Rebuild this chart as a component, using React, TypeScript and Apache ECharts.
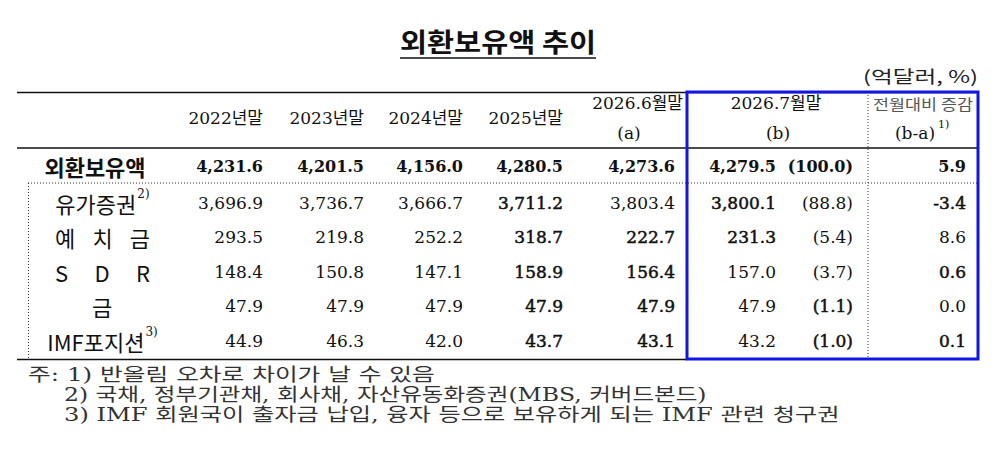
import React, { useEffect, useRef } from "react";
import * as echarts from "echarts";

// ---- data ----
const title = "외환보유액 추이";
const unitLabel = "(억달러, %)";
const yearHeaders = ["2022년말", "2023년말", "2024년말", "2025년말"];
const monthHeaders = [
  ["2026.6월말", "(a)"],
  ["2026.7월말", "(b)"],
];
const diffHeader = "전월대비 증감";
const diffSubHeader = "(b-a)";
const diffSubNote = "1)";
const rowLabels = ["외환보유액", "유가증권", "예 치 금", "S D R", "금", "IMF포지션"];
const rowNotes = ["", "2)", "", "", "", "3)"];
const end2022 = [4231.6, 3696.9, 293.5, 148.4, 47.9, 44.9];
const end2023 = [4201.5, 3736.7, 219.8, 150.8, 47.9, 46.3];
const end2024 = [4156.0, 3666.7, 252.2, 147.1, 47.9, 42.0];
const end2025 = [4280.5, 3711.2, 318.7, 158.9, 47.9, 43.7];
const endJun2026 = [4273.6, 3803.4, 222.7, 156.4, 47.9, 43.1];
const endJul2026 = [4279.5, 3800.1, 231.3, 157.0, 47.9, 43.2];
const sharePct = [100.0, 88.8, 5.4, 3.7, 1.1, 1.0];
const diffAB = [5.9, -3.4, 8.6, 0.6, 0.0, 0.1];
const notes = [
  "주: 1) 반올림 오차로 차이가 날 수 있음",
  "2) 국채, 정부기관채, 회사채, 자산유동화증권(MBS, 커버드본드)",
  "3) IMF 회원국이 출자금 납입, 융자 등으로 보유하게 되는 IMF 관련 청구권",
];

// ---- styles / layout ----
const NUM = "17px 'DejaVu Serif'";
const NUM_BOLD = "bold 16px 'DejaVu Serif'";
const HEAD = "17px 'DejaVu Serif', 'Noto Sans CJK KR'";
const LABEL = "22px 'Noto Sans CJK KR'";
const LABEL_BOLD = "bold 22px 'Noto Sans CJK KR'";
const NOTE = "18px 'DejaVu Serif', 'Noto Sans CJK KR'";
const INK = "#111";
// semi-bold cells (col index -> rows), col 6 = share, col 7 = diff
const semiBold: Record<number, number[]> = { 3: [1, 2, 3, 4, 5], 4: [2, 3, 4, 5], 5: [1, 2], 6: [4, 5], 7: [1, 3, 5] };

const measureCtx = document.createElement("canvas").getContext("2d") as CanvasRenderingContext2D;
function textWidth(t: string, font: string) {
  measureCtx.font = font;
  return measureCtx.measureText(t).width;
}

function txt(text: string, x: number, y: number, font: string, fill = INK, align = "left", extra: any = {}, el: any = {}) {
  return {
    type: "text",
    x,
    y,
    silent: true,
    ...el,
    style: { text, font, fill, align, textAlign: align, verticalAlign: "middle", textVerticalAlign: "middle", ...extra },
  };
}

// one text element, stretched horizontally to span [left, right]
function fitText(text: string, left: number, right: number, y: number, font: string, fill = INK) {
  const w = textWidth(text, font);
  const k = w > 0 ? (right - left) / w : 1;
  return txt(text, left, y, font, fill, "left", {}, { scaleX: k });
}

function justified(words: string[], left: number, right: number, y: number, font: string, fill = INK) {
  const ws = words.map((w) => textWidth(w, font));
  const total = ws.reduce((a, b) => a + b, 0);
  const gap = words.length > 1 ? (right - left - total) / (words.length - 1) : 0;
  let x = left;
  const els: any[] = [];
  words.forEach((w, i) => {
    els.push(txt(w, x, y, font, fill, "left"));
    x += ws[i] + gap;
  });
  return els;
}

function line(x1: number, y1: number, x2: number, y2: number, w = 1.5, dashed = false, stroke = "#111") {
  return {
    type: "line",
    silent: true,
    shape: { x1, y1, x2, y2 },
    style: { stroke, lineWidth: w, lineDash: dashed ? [1, 2] : null },
  };
}

const fmt = (v: number) => v.toLocaleString("en-US", { minimumFractionDigits: 1, maximumFractionDigits: 1 });

function buildElements() {
  const els: any[] = [];
  // title
  els.push(fitText(title, 400, 596, 41, "bold 26px 'Noto Sans CJK KR'"));
  els.push(line(400, 58, 596, 58, 1.5));
  // unit
  els.push(fitText(unitLabel, 863, 978, 76, "17px 'Noto Sans CJK KR'", "#222"));

  // rules
  els.push(line(17, 92.5, 979, 92.5, 1.5));
  els.push(line(17, 148, 979, 148, 1.5));
  els.push(line(28, 183, 979, 183, 1, true, "#333"));
  els.push(line(28.5, 183, 28.5, 359, 1, true, "#333"));
  els.push(line(868, 92, 868, 359, 1, true, "#333"));
  els.push(line(17, 359.5, 687, 359.5, 1.5));
  els.push({
    type: "rect",
    silent: true,
    shape: { x: 687, y: 92, width: 291, height: 267 },
    style: { fill: "none", stroke: "#1414e6", lineWidth: 3 },
  });

  // headers
  const colRight = [263, 364, 463, 563, 675, 776];
  yearHeaders.forEach((h, i) => els.push(txt(h, colRight[i], 118, HEAD, INK, "right")));
  els.push(txt(monthHeaders[0][0], 683, 103, HEAD, INK, "right"));
  els.push(txt(monthHeaders[0][1], 629, 133, HEAD, INK, "center"));
  els.push(txt(monthHeaders[1][0], 776, 103, HEAD, INK, "center"));
  els.push(txt(monthHeaders[1][1], 778, 133, HEAD, INK, "center"));
  els.push(fitText(diffHeader, 873, 973, 104, "15px 'Noto Sans CJK KR'", "#555"));
  els.push(txt(diffSubHeader, 915, 133, HEAD, INK, "center"));
  els.push(txt(diffSubNote, 938, 124, "11px 'DejaVu Serif'", INK, "left"));

  // rows
  const rowY = [166, 203, 237, 272, 306, 341];
  const columns = [end2022, end2023, end2024, end2025, endJun2026, endJul2026];
  rowLabels.forEach((lab, r) => {
    const y = rowY[r];
    const font = r === 0 ? LABEL_BOLD : LABEL;
    const tokens = lab.split(" ");
    if (tokens.length > 1) {
      els.push(...justified(tokens, 55, 150, y, font));
    } else {
      const w = textWidth(lab, font);
      const nw = rowNotes[r] ? textWidth(rowNotes[r], "12px 'DejaVu Serif'") : 0;
      const cx = r === 0 ? 95 : 102;
      const left = cx - (w + nw) / 2;
      els.push(txt(lab, left, y, font));
      if (rowNotes[r]) els.push(txt(rowNotes[r], left + w + 1, y - 9, "12px 'DejaVu Serif'"));
    }
    columns.forEach((col, c) => {
      const sb = semiBold[c] && semiBold[c].includes(r);
      els.push(
        txt(fmt(col[r]), colRight[c], y, r === 0 ? NUM_BOLD : NUM, INK, "right", sb ? { stroke: INK, lineWidth: 0.5 } : {})
      );
    });
    const sbS = semiBold[6].includes(r);
    els.push(txt("(" + fmt(sharePct[r]) + ")", 853, y, r === 0 ? NUM_BOLD : NUM, INK, "right", sbS ? { stroke: INK, lineWidth: 0.5 } : {}));
    const sbD = semiBold[7].includes(r);
    els.push(txt(fmt(diffAB[r]), 966, y, r === 0 ? NUM_BOLD : NUM, INK, "right", sbD ? { stroke: INK, lineWidth: 0.5 } : {}));
  });

  // notes
  els.push(fitText(notes[0], 28, 435, 375, NOTE, "#333"));
  els.push(fitText(notes[1], 64, 707, 395, NOTE, "#333"));
  els.push(fitText(notes[2], 64, 840, 415, NOTE, "#333"));
  return els;
}

export default function App() {
  const ref = useRef<HTMLDivElement>(null);
  useEffect(() => {
    document.body.style.margin = "0";
    if (!ref.current) return;
    const chart = echarts.init(ref.current, undefined, { renderer: "svg" });
    chart.setOption({
      animation: false,
      backgroundColor: "#ffffff",
      graphic: { elements: buildElements() },
    });
    return () => chart.dispose();
  }, []);
  return <div ref={ref} style={{ position: "fixed", left: 0, top: 0, width: 999, height: 456, background: "#fff" }} />;
}
